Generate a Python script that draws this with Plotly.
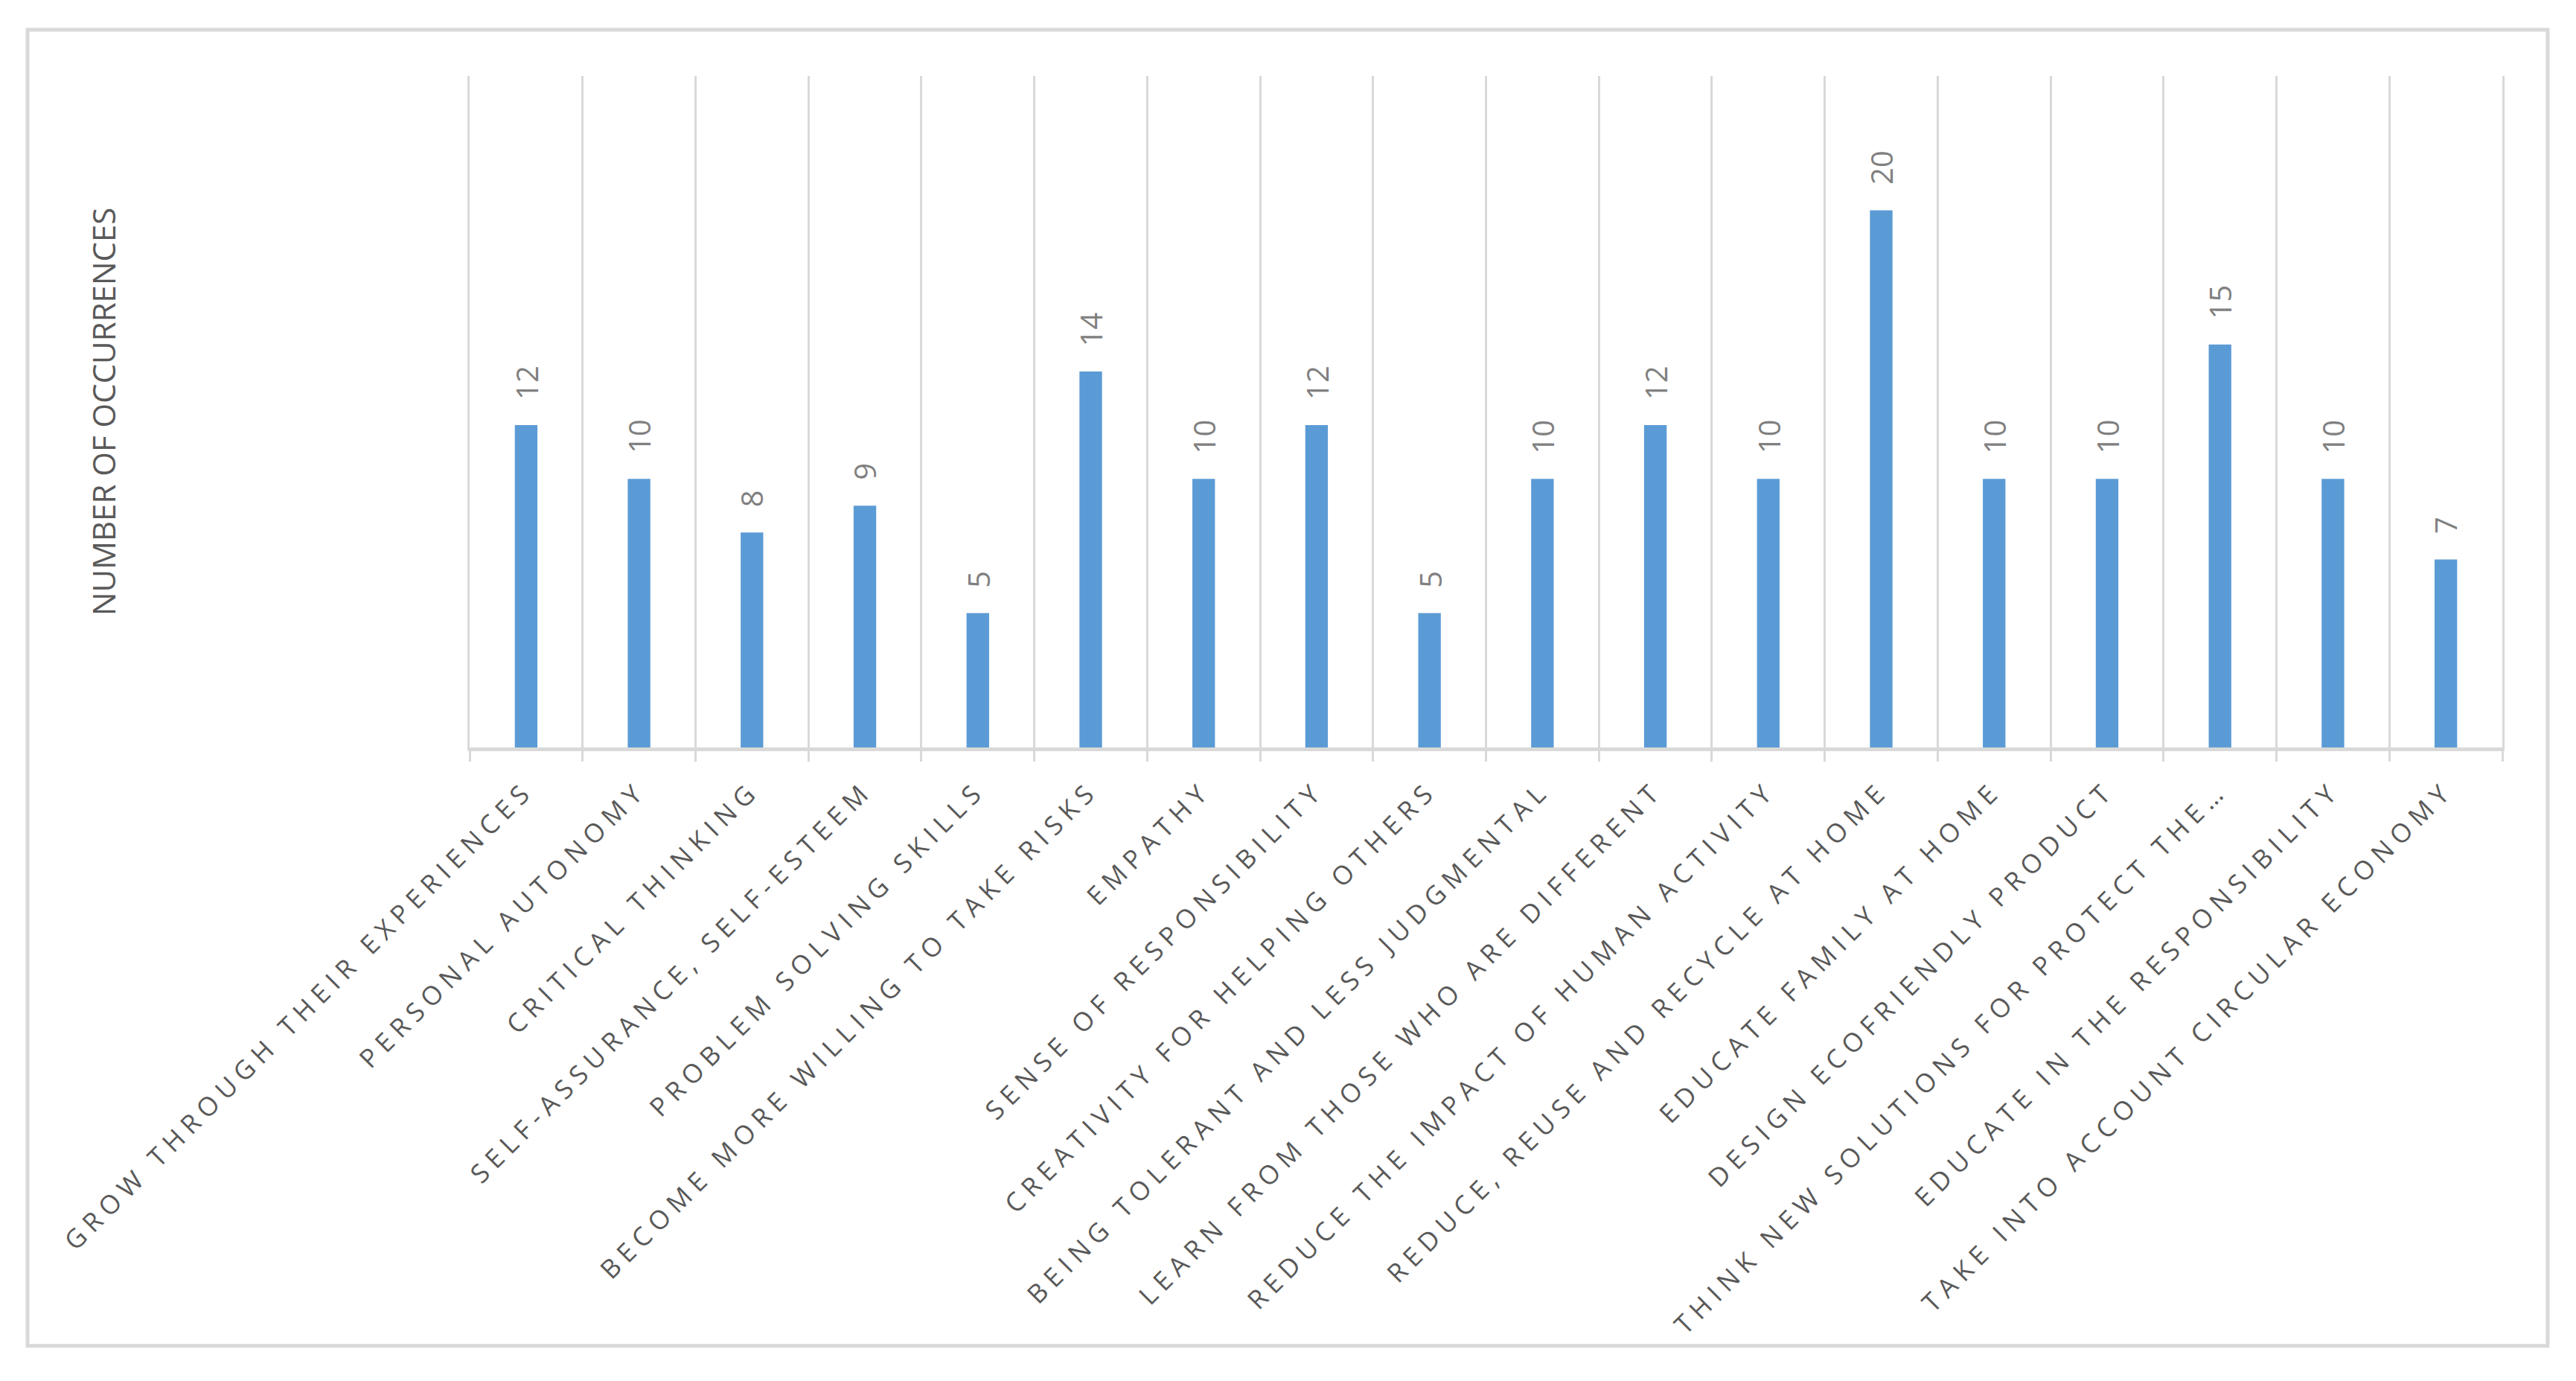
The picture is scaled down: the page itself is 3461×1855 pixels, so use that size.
import plotly.graph_objects as go

# Palette (Excel-style defaults)
BAR = '#5B9BD5'
GRID = '#D9D9D9'
TEXT = '#595959'
LABEL = '#808080'
FONT = 'Open Sans, Liberation Sans, sans-serif'

categories = [
    'GROW THROUGH THEIR EXPERIENCES',
    'PERSONAL AUTONOMY',
    'CRITICAL THINKING',
    'SELF-ASSURANCE, SELF-ESTEEM',
    'PROBLEM SOLVING SKILLS',
    'BECOME MORE WILLING TO TAKE RISKS',
    'EMPATHY',
    'SENSE OF RESPONSIBILITY',
    'CREATIVITY FOR HELPING OTHERS',
    'BEING TOLERANT AND LESS JUDGMENTAL',
    'LEARN FROM THOSE WHO ARE DIFFERENT',
    'REDUCE THE IMPACT OF HUMAN ACTIVITY',
    'REDUCE, REUSE AND RECYCLE AT HOME',
    'EDUCATE FAMILY AT HOME',
    'DESIGN ECOFRIENDLY PRODUCT',
    'THINK NEW SOLUTIONS FOR PROTECT THE…',
    'EDUCATE IN THE RESPONSIBILITY',
    'TAKE INTO ACCOUNT CIRCULAR ECONOMY',
]
occurrences = [12, 10, 8, 9, 5, 14, 10, 12, 5, 10, 12, 10, 20, 10, 10, 15, 10, 7]
y_title = 'NUMBER OF OCCURRENCES'

fig = go.Figure()
fig.add_trace(go.Bar(
    x=categories, y=occurrences,
    marker=dict(color=BAR, line=dict(width=0)),
    hovertemplate='%{x}: %{y}<extra></extra>',
))

# value labels, rotated, sitting a little above each bar
for cat, val in zip(categories, occurrences):
    fig.add_annotation(
        x=cat, y=val, text=str(val), showarrow=False,
        textangle=-90, yanchor='bottom', xanchor='center', yshift=32,
        font=dict(family=FONT, size=40, color=LABEL),
    )

# y axis title placed well left of the plot, like the original
fig.add_annotation(
    x=-0.1805, y=0.5, xref='paper', yref='paper', text=y_title,
    showarrow=False, textangle=-90, xanchor='center', yanchor='middle',
    font=dict(family=FONT, size=42, color=TEXT),
)

# chart border
fig.add_shape(
    type='rect', xref='paper', yref='paper',
    x0=-0.2175, x1=1.0223, y0=-0.891, y1=1.0687,
    line=dict(color=GRID, width=5), layer='below',
)

fig.update_layout(
    width=3445, height=1839,
    margin=dict(l=623, r=91, t=94, b=843),
    paper_bgcolor='white', plot_bgcolor='white',
    bargap=0.8, showlegend=False,
    font=dict(family=FONT, color=TEXT),
)
fig.update_xaxes(
    type='category', tickson='boundaries',
    showgrid=True, gridcolor=GRID, gridwidth=3,
    showline=True, linecolor=GRID, linewidth=5,
    ticks='outside', ticklen=14, tickcolor=GRID, tickwidth=3,
    tickangle=-45, ticklabelstandoff=18,
    tickfont=dict(family=FONT, size=35, color=TEXT),
)
# left/right plot edges drawn as grey lines like the category gridlines
fig.update_yaxes(
    range=[0, 25], showgrid=False, zeroline=False,
    showticklabels=False, ticks='',
    showline=True, mirror=True, linecolor=GRID, linewidth=3,
)

letter_spacing = (
    "document.querySelectorAll('.xtick text').forEach(function(t){"
    "t.style.letterSpacing='8.5px';});"
)
fig.write_html('out.html', post_script=letter_spacing)
